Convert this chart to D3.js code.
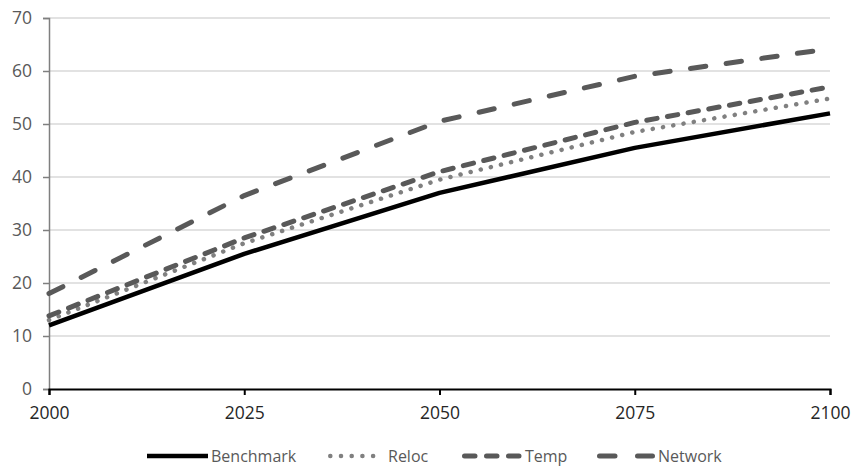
<!DOCTYPE html>
<html>
<head>
<meta charset="utf-8">
<script src="https://cdn.jsdelivr.net/npm/d3@7"></script>
<style>
  body { margin: 0; background: #fff; }
  svg text { font-family: "Open Sans", "Liberation Sans", sans-serif; }
</style>
</head>
<body>
<div id="chart"></div>
<script>
(function() {
    const width = 853
    const height = 467

    // data
    const years = [2000, 2025, 2050, 2075, 2100]
    const benchmark = [12, 25.5, 37, 45.5, 52]
    const reloc = [13, 27.5, 39.5, 48.5, 54.8]
    const temp = [13.8, 28.5, 41, 50.3, 57]
    const network = [18, 36.5, 50.5, 59, 64.2]
    const yTicks = [0, 10, 20, 30, 40, 50, 60, 70]

    // styling + legend slot for each series
    const series = [
        { name: "Benchmark", values: benchmark, color: "#000000", width: 4.5, dash: null, cap: "butt",
          lx: 147, len: 61, ldash: null },
        { name: "Reloc", values: reloc, color: "#808080", width: 4.5, dash: "0.1 10.3", cap: "round",
          lx: 328, len: 57, ldash: "0.1 10.6" },
        { name: "Temp", values: temp, color: "#595959", width: 5, dash: "10.5 10.5", cap: "round",
          lx: 462, len: 60, ldash: "10.5 11.5" },
        { name: "Network", values: network, color: "#595959", width: 5, dash: "15.5 20.5", cap: "round",
          lx: 597, len: 58, ldash: "15.5 22.5" }
    ]

    const margin = { top: 18, right: 23, bottom: 78, left: 49 }

    const svg = d3.select("#chart")
        .append("svg")
        .attr("width", width)
        .attr("height", height)

    const x = d3.scaleLinear()
        .domain([2000, 2100])
        .range([margin.left, width - margin.right])

    const y = d3.scaleLinear()
        .domain([0, 70])
        .range([height - margin.bottom, margin.top])

    // gridlines
    svg.append("g")
        .selectAll("line")
        .data(yTicks.filter(d => d > 0))
        .join("line")
        .attr("x1", x(2000))
        .attr("x2", x(2100))
        .attr("y1", d => y(d))
        .attr("y2", d => y(d))
        .attr("stroke", "#d9d9d9")
        .attr("stroke-width", 1.5)

    // y axis
    const yAxis = svg.append("g")
        .attr("transform", `translate(${x(2000)},0)`)
        .call(d3.axisLeft(y).tickValues(yTicks).tickSize(6).tickPadding(11))
    yAxis.select(".domain").attr("stroke", "#7f7f7f").attr("stroke-width", 1.5)
    yAxis.selectAll(".tick line").attr("stroke", "#7f7f7f").attr("stroke-width", 1.5)
    yAxis.selectAll("text").attr("fill", "#595959").style("font-size", "17.5px")

    // x axis
    const xAxis = svg.append("g")
        .attr("transform", `translate(0,${y(0)})`)
        .call(d3.axisBottom(x).tickValues(years).tickFormat(d3.format("d")).tickSize(6).tickPadding(12))
    xAxis.select(".domain").attr("stroke", "#000").attr("stroke-width", 2)
    xAxis.selectAll(".tick line").attr("stroke", "#000").attr("stroke-width", 2)
    xAxis.selectAll("text").attr("fill", "#262626").style("font-size", "17.5px")

    // lines
    const line = d3.line()
        .x((d, i) => x(years[i]))
        .y(d => y(d))

    svg.append("g")
        .selectAll("path")
        .data(series)
        .join("path")
        .attr("fill", "none")
        .attr("stroke", d => d.color)
        .attr("stroke-width", d => d.width)
        .attr("stroke-dasharray", d => d.dash)
        .attr("stroke-linecap", d => d.cap)
        .attr("stroke-linejoin", "round")
        .attr("d", d => line(d.values))

    // legend
    const legend = svg.append("g")
        .selectAll("g")
        .data(series)
        .join("g")
        .attr("transform", d => `translate(${d.lx},456)`)

    legend.append("line")
        .attr("x1", d => d.cap === "round" ? d.width / 2 : 0)
        .attr("x2", d => d.cap === "round" ? d.len - d.width / 2 : d.len)
        .attr("stroke", d => d.color)
        .attr("stroke-width", d => d.width)
        .attr("stroke-dasharray", d => d.ldash)
        .attr("stroke-linecap", d => d.cap)

    legend.append("text")
        .attr("x", d => d.len + 3)
        .attr("dy", "0.35em")
        .attr("fill", "#595959")
        .style("font-size", "16px")
        .text(d => d.name)
})();
</script>
</body>
</html>
